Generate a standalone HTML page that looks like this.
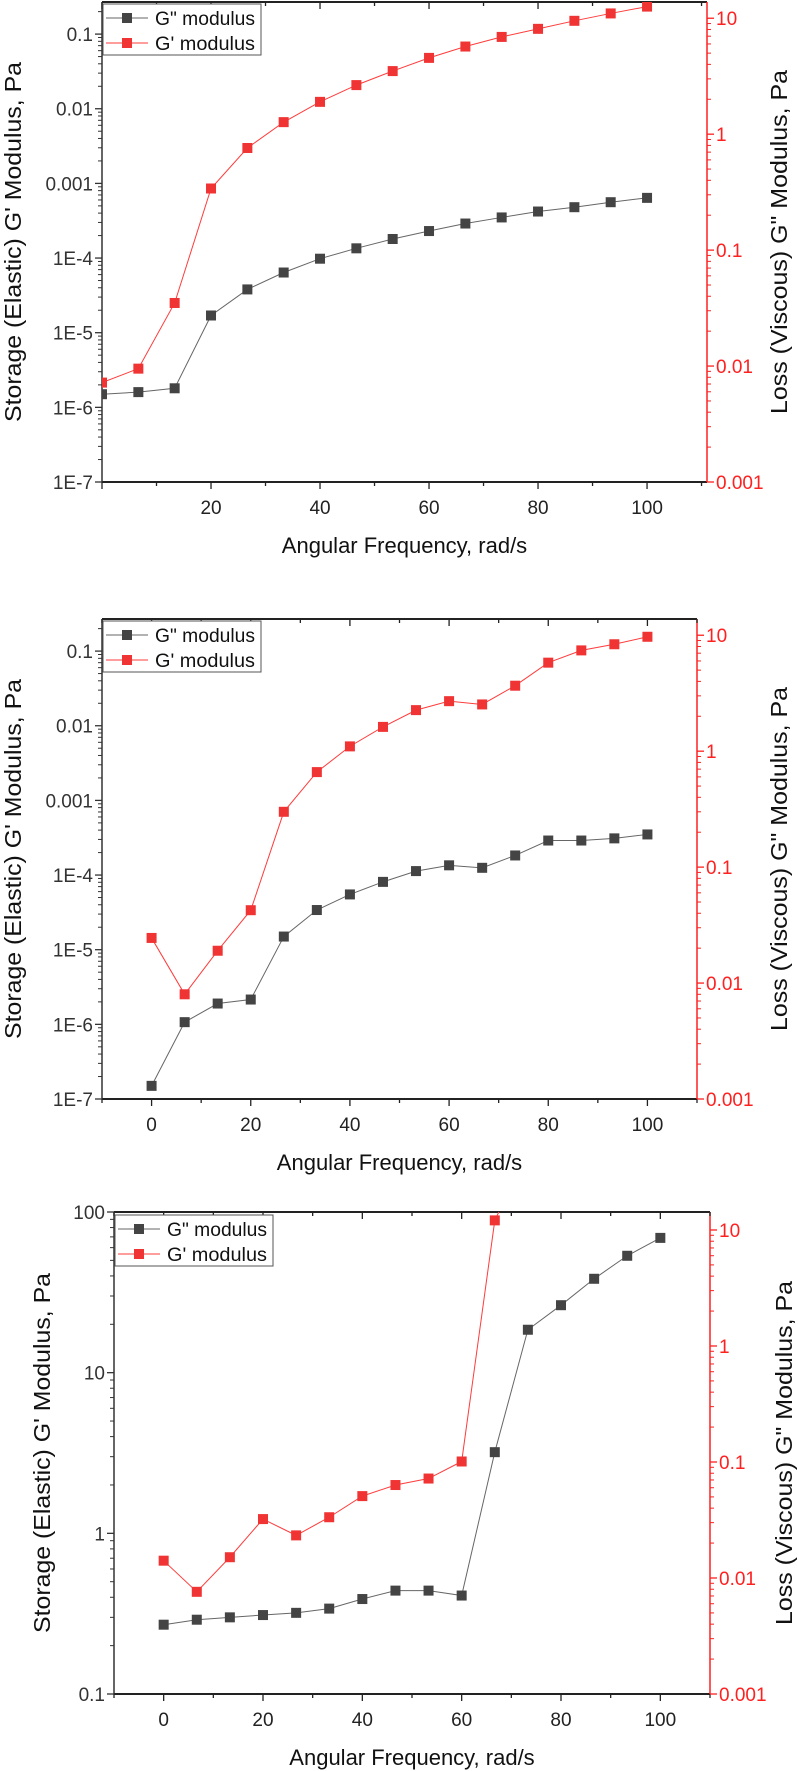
<!DOCTYPE html>
<html><head><meta charset="utf-8"><style>
html,body{margin:0;padding:0;background:#fff;}
svg{display:block;}
text{font-family:"Liberation Sans",Arial,sans-serif;}
</style></head><body>
<svg id="chart" width="798" height="1771" viewBox="0 0 798 1771" xmlns="http://www.w3.org/2000/svg"></svg>
<script>
// ---- data ----
const freqA = [0,6.67,13.33,20,26.67,33.33,40,46.67,53.33,60,66.67,73.33,80,86.67,93.33,100];
const lossA = [1.5e-6,1.6e-6,1.8e-6,1.7e-5,3.8e-5,6.4e-5,9.8e-5,1.35e-4,1.8e-4,2.3e-4,2.9e-4,3.5e-4,4.2e-4,4.8e-4,5.6e-4,6.4e-4];
const storA = [0.0072,0.0095,0.035,0.34,0.76,1.27,1.9,2.65,3.5,4.55,5.7,6.9,8.1,9.5,11.0,12.6];

const freqB = [0,6.67,13.33,20,26.67,33.33,40,46.67,53.33,60,66.67,73.33,80,86.67,93.33,100];
const lossB = [1.5e-7,1.07e-6,1.9e-6,2.15e-6,1.5e-5,3.4e-5,5.5e-5,8.1e-5,1.13e-4,1.35e-4,1.25e-4,1.83e-4,2.9e-4,2.9e-4,3.1e-4,3.5e-4];
const storB = [0.0245,0.008,0.019,0.0425,0.30,0.66,1.1,1.62,2.26,2.7,2.53,3.67,5.8,7.4,8.36,9.7];

const freqC = [0,6.67,13.33,20,26.67,33.33,40,46.67,53.33,60,66.67,73.33,80,86.67,93.33,100];
const lossC = [0.27,0.29,0.30,0.31,0.32,0.34,0.39,0.44,0.44,0.41,3.2,18.5,26.3,38.4,53.4,69];
const storC = [0.0141,0.0076,0.0151,0.0322,0.0233,0.0334,0.0508,0.0633,0.072,0.101,12.1,47];

const leftTicksAB = ["1E-7","1E-6","1E-5","1E-4","0.001","0.01","0.1"];
const leftTicksC = ["0.1","1","10","100"];
const rightTicks = ["0.001","0.01","0.1","1","10"];
const xTicksA = ["20","40","60","80","100"];
const xTicksBC = ["0","20","40","60","80","100"];

const NS = "http://www.w3.org/2000/svg";
const svg = document.getElementById('chart');
function el(tag, attrs, parent){
  const e = document.createElementNS(NS, tag);
  for (const k in attrs) e.setAttribute(k, attrs[k]);
  (parent||svg).appendChild(e);
  return e;
}

function panel(p){
  const g = el('g', {});
  
  
  const X = v => p.x0 + (v - p.xmin) / (p.xmax - p.xmin) * (p.x1 - p.x0);
  const YL = v => p.y1 - (Math.log10(v) - p.lmin) / (p.lmax - p.lmin) * (p.y1 - p.y0);
  const YR = v => p.y1 - (Math.log10(v) - p.rmin) / (p.rmax - p.rmin) * (p.y1 - p.y0);
  const cid = 'clip-' + p.name;
  const cp = el('clipPath', {id: cid}, g);
  el('rect', {x: p.x0, y: p.y0, width: p.x1 - p.x0, height: p.y1 - p.y0}, cp);

  const tf = el('line', {x1:p.x0, y1:p.y0, x2:p.x1, y2:p.y0, stroke:'#222', 'stroke-width':2}, g);
  
  
  const bf = el('line', {x1:p.x0, y1:p.y1, x2:p.x1, y2:p.y1, stroke:'#222', 'stroke-width':2}, g);
  
  
  const lf = el('line', {x1:p.x0, y1:p.y0, x2:p.x0, y2:p.y1, stroke:'#333', 'stroke-width':1.5}, g);
  
  
  const rf = el('line', {x1:p.x1, y1:p.y0, x2:p.x1, y2:p.y1, stroke:'#ff2020', 'stroke-width':1.5}, g);
  
  

  for (let v = Math.ceil(p.xmin/10)*10; v <= p.xmax; v += 10) {
    const major = (v % 20 === 0);
    const L = major ? 7 : 4;
    el('line', {x1:X(v), y1:p.y1, x2:X(v), y2:p.y1 + L, stroke:'#222', 'stroke-width':1.3}, g);
    el('line', {x1:X(v), y1:p.y0, x2:X(v), y2:p.y0 + L, stroke:'#222', 'stroke-width':1.3}, g);
  }
  p.xticks.forEach(s => {
    const t = el('text', {x:X(+s), y:p.y1 + 32, 'text-anchor':'middle', 'font-size':p.tickFs, fill:'#222'}, g);
    t.textContent = s;
    
    
  });
  p.lticks.forEach(s => {
    const v = +s; const y = YL(v);
    el('line', {x1:p.x0 - 7, y1:y, x2:p.x0, y2:y, stroke:'#333', 'stroke-width':1.3}, g);
    const t = el('text', {x:p.x0 - 9, y:y + 7, 'text-anchor':'end', 'font-size':p.tickFs, fill:'#333'}, g);
    t.textContent = s;
    
    
    for (let m = 2; m <= 9; m++) {
      const ym = YL(v * m);
      if (ym >= p.y0 && ym <= p.y1) el('line', {x1:p.x0 - 4, y1:ym, x2:p.x0, y2:ym, stroke:'#333', 'stroke-width':1}, g);
    }
  });
  p.rticks.forEach(s => {
    const v = +s; const y = YR(v);
    el('line', {x1:p.x1, y1:y, x2:p.x1 + 7, y2:y, stroke:'#ff2020', 'stroke-width':1.3}, g);
    const t = el('text', {x:p.x1 + 9, y:y + 7, 'text-anchor':'start', 'font-size':p.tickFs, fill:'#ff2020'}, g);
    t.textContent = s;
    
    
    for (let m = 2; m <= 9; m++) {
      const ym = YR(v * m);
      if (ym >= p.y0 && ym <= p.y1) el('line', {x1:p.x1, y1:ym, x2:p.x1 + 4, y2:ym, stroke:'#ff2020', 'stroke-width':1}, g);
    }
  });

  const xt = el('text', {x:(p.x0 + p.x1)/2, y:p.y1 + 71, 'text-anchor':'middle', 'font-size':22, fill:'#111'}, g);
  xt.textContent = 'Angular Frequency, rad/s';
  
  
  const ly = p.ly;
  const yl = el('text', {x:0, y:0, transform:`translate(${p.lx},${ly}) rotate(-90)`, 'text-anchor':'middle', 'dominant-baseline':'central', 'font-size':23, fill:'#111', textLength:360, lengthAdjust:'spacingAndGlyphs'}, g);
  yl.textContent = "Storage (Elastic) G' Modulus, Pa";
  
  
  const yr = el('text', {x:0, y:0, transform:`translate(${p.rx},${ly}) rotate(-90)`, 'text-anchor':'middle', 'dominant-baseline':'central', 'font-size':23, fill:'#111', textLength:344, lengthAdjust:'spacingAndGlyphs'}, g);
  yr.textContent = 'Loss (Viscous) G" Modulus, Pa';
  
  

  const series = [
    {xs:p.fx, ys:p.loss, Y:YL, line:'#666', mk:'#444', name:'loss-modulus-series'},
    {xs:p.fx, ys:p.stor, Y:YR, line:'#ff3b3b', mk:'#f03434', name:'storage-modulus-series'}
  ];
  series.forEach(s => {
    const sg = el('g', {'clip-path':`url(#${cid})`}, g);
    
    
    const pts = s.ys.map((v, i) => X(s.xs[i]) + ',' + s.Y(v)).join(' ');
    const pl = el('polyline', {points:pts, fill:'none', stroke:s.line, 'stroke-width':1}, sg);
    
    
    s.ys.forEach((v, i) => {
      const r = el('rect', {x:X(s.xs[i]) - 5, y:s.Y(v) - 5, width:10, height:10, fill:s.mk}, sg);
      
      
    });
  });

  const lg = el('g', {}, g);
  
  
  el('rect', {x:p.x0 + 1, y:p.legY, width:158, height:51, fill:'#fff', stroke:'#555', 'stroke-width':1}, lg);
  [['G" modulus', '#666', '#444', 14], ["G' modulus", '#ff3b3b', '#f03434', 39]].forEach(e => {
    const yy = p.legY + e[3];
    const en = el('g', {}, lg);
    
    
    el('line', {x1:p.x0 + 4, y1:yy, x2:p.x0 + 46, y2:yy, stroke:e[1], 'stroke-width':1}, en);
    el('rect', {x:p.x0 + 20, y:yy - 5, width:10, height:10, fill:e[2]}, en);
    const t = el('text', {x:p.x0 + 53, y:yy + 7, 'font-size':19, fill:'#111', textLength:100, lengthAdjust:'spacingAndGlyphs'}, en);
    t.textContent = e[0];
  });
}

panel({name:'panel-1', x0:102, x1:707, y0:2, y1:482, xmin:0, xmax:111,
  lmin:-7, lmax:-0.57, rmin:-3, rmax:1.14, fx:freqA, loss:lossA, stor:storA,
  lticks:leftTicksAB, rticks:rightTicks, xticks:xTicksA, tickFs:19,
  lx:13, rx:779, ly:242, legY:4});
panel({name:'panel-2', x0:102, x1:697, y0:619, y1:1099, xmin:-10, xmax:110,
  lmin:-7, lmax:-0.57, rmin:-3, rmax:1.14, fx:freqB, loss:lossB, stor:storB,
  lticks:leftTicksAB, rticks:rightTicks, xticks:xTicksBC, tickFs:19,
  lx:13, rx:779, ly:859, legY:621});
panel({name:'panel-3', x0:114, x1:710, y0:1212, y1:1694, xmin:-10, xmax:110,
  lmin:-1, lmax:2, rmin:-3, rmax:1.155, fx:freqC, loss:lossC, stor:storC,
  lticks:leftTicksC, rticks:rightTicks, xticks:xTicksBC, tickFs:19,
  lx:42, rx:784, ly:1453, legY:1215});
</script>
</body></html>
